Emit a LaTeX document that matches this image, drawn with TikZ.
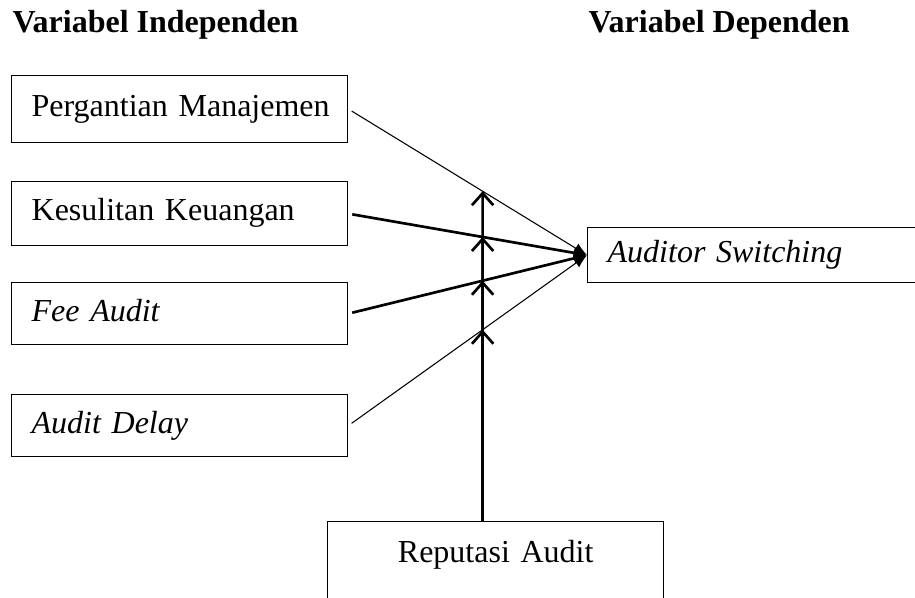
\documentclass[12pt,tikz,border=0pt]{standalone}
\usepackage{fontspec}
\setmainfont{Liberation Serif}
\usetikzlibrary{arrows.meta}

\begin{document}
\begin{tikzpicture}[x=0.375pt, y=-0.375pt,
  var/.style={draw, line width=0.5pt, anchor=north west, inner xsep=7.5pt, inner ysep=0pt,
    text width=111pt, align=left, text height=8pt, text depth=2.5pt},
  thinlink/.style={line width=0.4pt, shorten <=1.5pt, -{Latex[length=5pt,width=4pt]}},
  thicklink/.style={line width=1pt, shorten <=1.5pt, -{Latex[length=5pt,width=4pt]}},
  modlink/.style={line width=1pt, -{Straight Barb[length=4.5pt,width=8pt]}}]

\useasboundingbox (0,0) rectangle (915,598);

% Headings
\node[anchor=base west, font=\bfseries, inner sep=0pt] (indep) at (12,33) {Variabel Independen};
\node[anchor=base west, font=\bfseries, inner sep=0pt] (dep) at (588,33) {Variabel Dependen};

% Independent variables
\node[var, minimum height=25pt] (pm) at (11,75) {\mbox{Pergantian Manajemen}};
\node[var, minimum height=24pt] (ku) at (11,181) {Kesulitan Keuangan};
\node[var, minimum height=23.25pt] (fa) at (11,282) {\textit{Fee Audit}};
\node[var, minimum height=23.25pt] (ad) at (11,394) {\textit{Audit Delay}};

% Dependent variable
\node[var, minimum height=20.6pt] (as) at (587,227) {\textit{Auditor Switching}};

% Moderating variable
\node[var, align=center, text height=15.4pt, text depth=15pt] (ra) at (327,521) {Reputasi Audit};

% Direct effects
\draw[thinlink] (pm.east) -- (as.west);
\draw[thicklink] (ku.east) -- (as.west);
\draw[thicklink] (fa.east) -- (as.west);
\draw[thinlink] (ad.east) -- (as.west);

% Moderation arrows onto each path
\coordinate (mb) at ([xshift=-4.9pt]ra.north);
\coordinate (mt) at (mb |- indep.south);
\foreach \src [count=\i] in {pm,ku,fa,ad}
  \coordinate (m\i) at (intersection of \src.east--as.west and mb--mt);
\foreach \i in {1,...,4}
  \draw[modlink] (mb) -- (m\i);
\end{tikzpicture}
\end{document}
